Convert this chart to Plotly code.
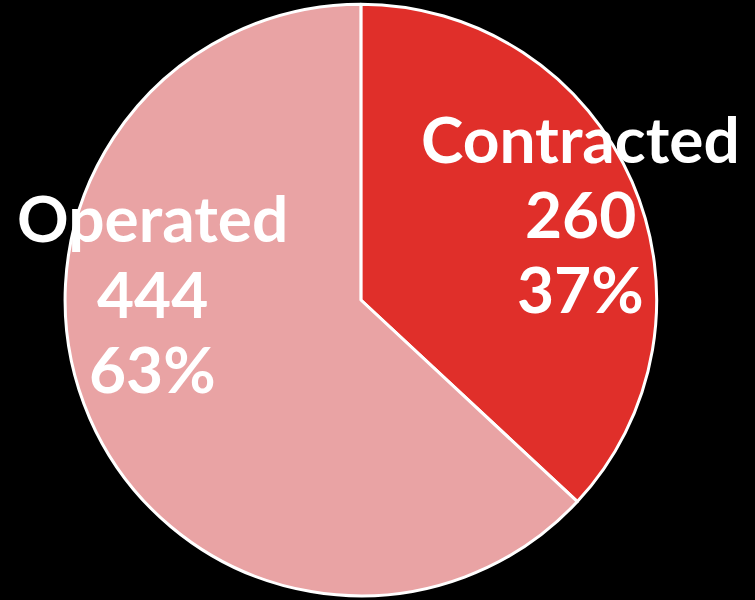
import plotly.graph_objects as go

# data
labels = ["Contracted", "Operated"]
values = [260, 444]
colors = ["#E02F2A", "#E9A3A4"]

# label anchor points for each slice's text block
label_x = [580 / 755, 152 / 755]
label_y_top = [138, 218]  # pixel centre of first text line
line_step = 75

total = sum(values)
percents = [round(v / total * 100) for v in values]

fig = go.Figure()

fig.add_trace(
    go.Pie(
        labels=labels,
        values=values,
        marker=dict(colors=colors, line=dict(color="white", width=3)),
        sort=False,
        direction="clockwise",
        rotation=0,
        textinfo="none",
        hoverinfo="label+value+percent",
        showlegend=False,
        domain=dict(x=[0.086, 0.870], y=[0.007, 0.993]),
    )
)

# text labels: name, value, percent on separate lines
for i, name in enumerate(labels):
    lines = [name, str(values[i]), f"{percents[i]}%"]
    for j, txt in enumerate(lines):
        ypix = label_y_top[i] + j * line_step
        fig.add_annotation(
            x=label_x[i],
            y=1 - ypix / 600,
            xref="paper",
            yref="paper",
            text=f"<b>{txt}</b>",
            showarrow=False,
            xanchor="center",
            yanchor="middle",
            font=dict(family="Lato, sans-serif", size=64, color="white"),
        )

fig.update_layout(
    width=755,
    height=600,
    margin=dict(l=0, r=0, t=0, b=0),
    paper_bgcolor="black",
    plot_bgcolor="black",
)

fig.write_html(
    "out.html",
    config={"displayModeBar": False},
    post_script="document.body.style.margin='0';document.body.style.backgroundColor='black';",
)
